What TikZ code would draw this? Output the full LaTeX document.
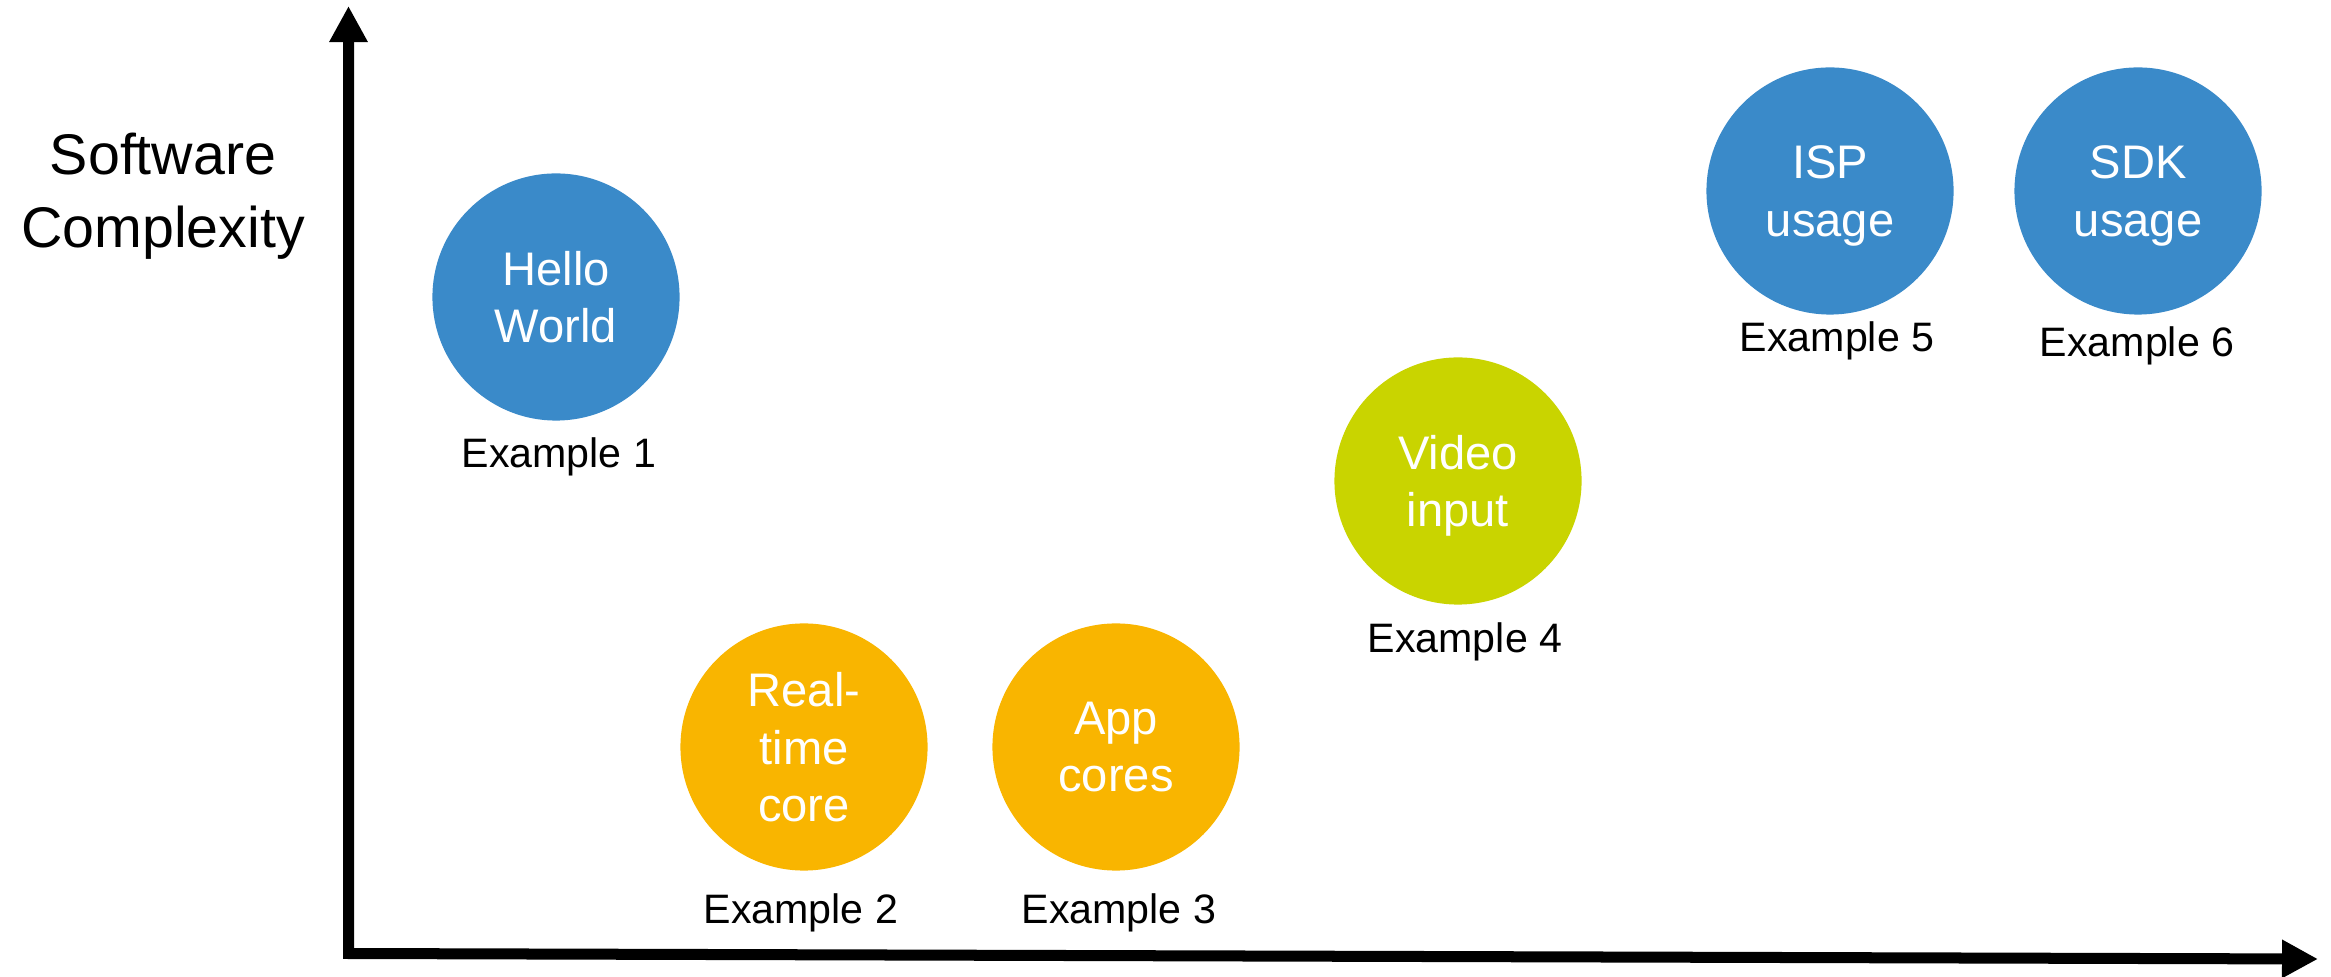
\documentclass[tikz,border=0pt]{standalone}
\usepackage{fontspec}
\setmainfont{Liberation Sans}
\usetikzlibrary{arrows.meta}

\definecolor{ballblue}{RGB}{58,138,201}
\definecolor{ballorange}{RGB}{249,181,0}
\definecolor{ballgreen}{RGB}{201,212,0}

\begin{document}
\begin{tikzpicture}[x=0.01cm,y=-0.01cm,
    ball/.style={circle, minimum size=2.47cm, inner sep=0pt, text=white,
      align=center, text depth=0pt, font=\fontsize{13.4}{16.3}\selectfont},
    tag/.style={anchor=base, font=\fontsize{11.7}{14}\selectfont},
    axis/.style={line width=0.11cm, line join=miter,
      {Triangle[length=0.36cm,width=0.36cm]}-{Triangle[length=0.36cm,width=0.36cm]}}]
  \useasboundingbox (0,0) rectangle (2331,977);

  % axes
  \coordinate (top) at (348.5,6);
  \coordinate (origin) at (348.5,953.5);
  \coordinate (right) at (2318,959);
  \draw[axis] (top) -- (origin) -- (right);
  \node[align=center, font=\fontsize{16.3}{20.8}\selectfont] (ylabel) at (163,196) {Software\\Complexity};

  % examples
  \node[ball, fill=ballblue] (hello) at (556,297) {Hello\\World};
  \node[tag] (ex1) at (559,468) {Example 1};
  \node[ball, fill=ballorange] (rt) at (804,747) {Real-\\time\\core};
  \node[tag] (ex2) at (801,923) {Example 2};
  \node[ball, fill=ballorange] (app) at (1116,747) {App\\cores};
  \node[tag] (ex3) at (1119,923) {Example 3};
  \node[ball, fill=ballgreen] (video) at (1458,481) {Video\\input};
  \node[tag] (ex4) at (1465,653) {Example 4};
  \node[ball, fill=ballblue] (isp) at (1830,191) {ISP\\usage};
  \node[tag] (ex5) at (1837,352) {Example 5};
  \node[ball, fill=ballblue] (sdk) at (2138,191) {SDK\\usage};
  \node[tag] (ex6) at (2137,357) {Example 6};
\end{tikzpicture}
\end{document}
